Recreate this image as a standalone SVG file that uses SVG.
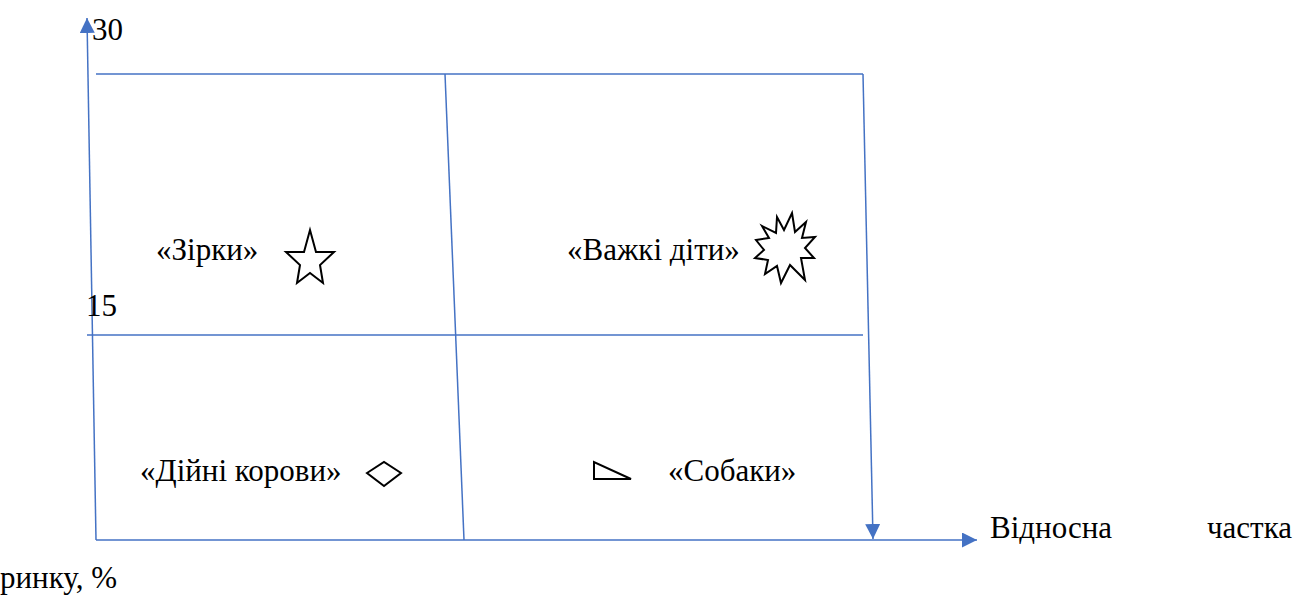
<svg xmlns="http://www.w3.org/2000/svg" width="1297" height="599" viewBox="0 0 1297 599">
<defs>
<style>
.ln{stroke:#4472C4;stroke-width:1.5;fill:none}
.sh{fill:#fff;stroke:#000;stroke-width:2}
</style>
<marker id="ah2" viewBox="0 0 10 10" refX="10" refY="5" markerWidth="15" markerHeight="15" markerUnits="userSpaceOnUse" orient="auto">
<path d="M0,0 L10,5 L0,10 Z" fill="#4472C4"/>
</marker>
</defs>
<rect width="1297" height="599" fill="#fff"/>
<g id="connectors">
<line class="ln" x1="96" y1="540" x2="87" y2="18" marker-end="url(#ah2)"/>
<line class="ln" x1="96" y1="540" x2="977" y2="540" marker-end="url(#ah2)"/>
<line class="ln" x1="96" y1="74" x2="863" y2="74"/>
<line class="ln" x1="863" y1="74" x2="873" y2="539" marker-end="url(#ah2)"/>
<line class="ln" x1="445" y1="74" x2="464" y2="540"/>
<line class="ln" x1="87" y1="335" x2="863" y2="335"/>
</g>
<g id="axis-labels" font-family="Times New Roman, serif" font-size="31">
<text x="92" y="40">30</text>
<text x="86" y="316">15</text>
<text x="990" y="538">Відносна</text>
<text x="1292" y="538" text-anchor="end">частка</text>
<text x="0" y="588">ринку, %</text>
</g>
<g id="stars" font-family="Times New Roman, serif" font-size="31">
<text x="156" y="260">«Зірки»</text>
<polygon class="sh" points="310,230 316,252 334,252 320,265 323,283 310,273 297,283 300,265 286,252 304,252"/>
</g>
<g id="problem-children" font-family="Times New Roman, serif" font-size="31">
<text x="567" y="260">«Важкі діти»</text>
<polygon class="sh" points="792,213 795,232 806,222 802,238 815,237 805,248 814,258 801,258 805,280 790,265 781,283 777,266 765,274 768,260 755,258 764,250 756,240 769,238 762,226 776,233 777,217 784,230"/>
</g>
<g id="cash-cows" font-family="Times New Roman, serif" font-size="31">
<text x="140" y="481">«Дійні корови»</text>
<polygon class="sh" points="367,473 384,462 401,473 384,486"/>
</g>
<g id="dogs" font-family="Times New Roman, serif" font-size="31">
<polygon class="sh" points="594,462 594,479 631,479"/>
<text x="668" y="481">«Собаки»</text>
</g>
</svg>
